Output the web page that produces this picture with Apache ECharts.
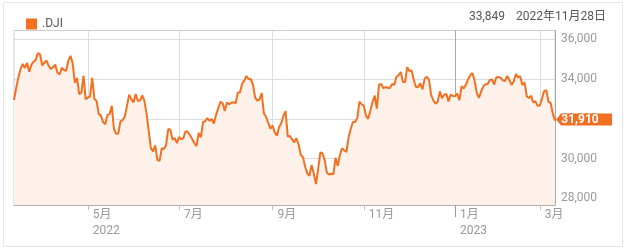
<!DOCTYPE html>
<html>
<head>
<meta charset="utf-8">
<script src="https://cdn.jsdelivr.net/npm/echarts@6/dist/echarts.min.js"></script>
<style>html,body{margin:0;padding:0;background:#fff;}#c{width:626px;height:250px;}</style>
</head>
<body>
<div id="c"></div>
<script>
// Trading days, by month
const monthDays = [
  ['2022-03', [14,15,16,17,18,21,22,23,24,25,28,29,30,31]],
  ['2022-04', [1,4,5,6,7,8,11,12,13,14,18,19,20,21,22,25,26,27,28,29]],
  ['2022-05', [2,3,4,5,6,9,10,11,12,13,16,17,18,19,20,23,24,25,26,27,31]],
  ['2022-06', [1,2,3,6,7,8,9,10,13,14,15,16,17,21,22,23,24,27,28,29,30]],
  ['2022-07', [1,5,6,7,8,11,12,13,14,15,18,19,20,21,22,25,26,27,28,29]],
  ['2022-08', [1,2,3,4,5,8,9,10,11,12,15,16,17,18,19,22,23,24,25,26,29,30,31]],
  ['2022-09', [1,2,6,7,8,9,12,13,14,15,16,19,20,21,22,23,26,27,28,29,30]],
  ['2022-10', [3,4,5,6,7,10,11,12,13,14,17,18,19,20,21,24,25,26,27,28,31]],
  ['2022-11', [1,2,3,4,7,8,9,10,11,14,15,16,17,18,21,22,23,25,28,29,30]],
  ['2022-12', [1,2,5,6,7,8,9,12,13,14,15,16,19,20,21,22,23,27,28,29,30]],
  ['2023-01', [3,4,5,6,9,10,11,12,13,17,18,19,20,23,24,25,26,27,30,31]],
  ['2023-02', [1,2,3,6,7,8,9,10,13,14,15,16,17,21,22,23,24,27,28]],
  ['2023-03', [1,2,3,6,7,8,9,10]]
];
const categories = [];
monthDays.forEach(([m, days]) => days.forEach(d => categories.push(m + '-' + String(d).padStart(2, '0'))));

const seriesName = '.DJI';
const values = [
  // 2022-03
  32945,33544,34063,34481,34755,34553,34808,34358,34708,34862,34955,35294,35229,34678,
  // 2022-04
  34818,34922,34641,34497,34584,34721,34308,34221,34565,34451,34412,34911,35161,34793,33811,34049,33240,33302,34160,32977,
  // 2022-05
  33062,33129,34061,32998,32899,32246,32161,31834,31730,32197,32223,32655,31490,31254,31262,31880,31929,32120,32637,33213,32990,
  // 2022-06
  32813,33248,32900,32916,33180,32910,32273,31393,30517,30365,30669,29927,29889,30530,30484,30677,31500,31439,30947,31029,30775,
  // 2022-07
  31097,30968,31037,31385,31338,31174,30982,30773,30631,31288,31073,31827,31875,32037,31899,31990,31762,32198,32530,32845,
  // 2022-08
  32798,32397,32813,32727,32803,32833,32775,33310,33337,33761,33913,34152,33981,33999,33707,33064,32910,32970,33292,32283,32099,31791,31510,
  // 2022-09
  31656,31318,31145,31581,31775,32152,32381,31105,31135,30962,30822,31020,30706,30184,30077,29590,29261,29135,29684,29226,28726,
  // 2022-10
  29491,30317,30274,29927,29297,29203,29240,29211,30039,29635,30186,30524,30424,30334,31083,31500,31837,31839,32034,32862,32733,
  // 2022-11
  32653,32148,31999,32403,32827,33161,32514,33716,33748,33537,33593,33553,33547,33746,33701,34098,34194,34347,33849,33853,34590,
  // 2022-12
  34395,34430,33948,33597,33598,33781,33477,34006,34109,33966,33203,32920,32758,32850,33377,33028,33204,33242,32876,33221,33147,
  // 2023-01
  33136,33270,32930,33631,33518,33704,33974,34190,34303,33911,33297,33045,33376,33630,33734,33744,33950,33978,33717,34086,
  // 2023-02
  34093,34054,33926,33891,34156,33949,33699,33869,34246,34089,34128,33697,33827,33130,33045,33154,32817,32889,32657,
  // 2023-03
  32662,33004,33391,33432,32856,32798,32254,31910
];

const tickDates  = ['2022-05-02','2022-07-01','2022-09-01','2022-11-01','2023-01-03','2023-03-01'];
const tickLabels = ['5月\n2022','7月','9月','11月','1月\n2023','3月'];
const yearDates  = ['2023-01-03'];
const yTicks = [28000, 30000, 32000, 34000, 36000];
const yMin = 27673, yMax = 36432;

const hoverValue = '33,849';
const hoverDate = '2022年11月28日';

const fmt = v => Number(v).toLocaleString('en-US');
const FONT = 'Roboto, "Noto Sans CJK JP", sans-serif';
const lastIdx = values.length - 1;

const chart = echarts.init(document.getElementById('c'), null, {renderer: 'canvas'});
chart.setOption({
  animation: false,
  textStyle: {fontFamily: FONT},
  legend: {
    data: [seriesName], left: 21, top: 13, icon: 'rect', itemWidth: 11, itemHeight: 11,
    itemGap: 10, selectedMode: false,
    textStyle: {color: '#555', fontSize: 12, fontFamily: FONT}
  },
  graphic: [
    {type: 'rect', shape: {x: 3.5, y: 2.5, width: 619, height: 244}, style: {fill: 'none', stroke: '#e6e6e6', lineWidth: 1}, silent: true, z: -10},
    {type: 'text', right: 20, top: 11, style: {text: hoverDate, fill: '#555', font: '12px ' + FONT}},
    {type: 'text', right: 121, top: 11, style: {text: hoverValue, fill: '#555', font: '12px ' + FONT}}
  ],
  grid: {left: 14, top: 30.5, right: 71, bottom: 45, show: true, borderColor: '#ccc', borderWidth: 1, backgroundColor: 'transparent'},
  xAxis: [
    {
      type: 'category', data: categories, boundaryGap: false,
      axisLine: {show: true, lineStyle: {color: '#b5aea9'}},
      axisTick: {show: true, length: 5, lineStyle: {color: '#bbb'},
        interval: (i) => tickDates.includes(categories[i]) && !yearDates.includes(categories[i])},
      axisLabel: {
        interval: (i) => tickDates.includes(categories[i]),
        formatter: (v) => tickLabels[tickDates.indexOf(v)],
        align: 'left', padding: [0, 0, 0, 5], margin: 2, lineHeight: 16,
        color: '#999', fontSize: 12, fontFamily: FONT
      },
      splitLine: {show: true, lineStyle: {color: '#ddd'},
        interval: (i) => tickDates.includes(categories[i]) && !yearDates.includes(categories[i])}
    },
    {
      type: 'category', data: categories, boundaryGap: false, position: 'bottom',
      axisLine: {show: false},
      axisTick: {show: true, length: 12, lineStyle: {color: '#999'},
        interval: (i) => yearDates.includes(categories[i])},
      axisLabel: {show: false},
      splitLine: {show: true, lineStyle: {color: '#aaa'},
        interval: (i) => yearDates.includes(categories[i])}
    }
  ],
  yAxis: {
    type: 'value', position: 'right', min: yMin, max: yMax, scale: true,
    axisLine: {show: true, lineStyle: {color: '#aaa'}},
    axisTick: {show: false, customValues: yTicks},
    axisLabel: {customValues: yTicks, formatter: fmt, color: '#999', fontSize: 12, margin: 6,
      padding: [0, 0, 5, 0], fontFamily: FONT},
    splitLine: {show: true, lineStyle: {color: '#ddd'}}
  },
  series: [{
    name: seriesName, type: 'line', data: values, showSymbol: false, symbol: 'none',
    itemStyle: {color: '#f37021'},
    lineStyle: {color: '#f37021', width: 2},
    areaStyle: {color: '#fdf1e9', opacity: 1},
    markPoint: {
      symbol: 'path://M0,6 L5,0 L56,0 L56,12 L5,12 Z',
      symbolSize: [56, 12], symbolKeepAspect: false, symbolOffset: [29, -1],
      itemStyle: {color: '#f26f21'},
      label: {show: true, position: 'inside', color: '#fff', fontWeight: 'bold', fontSize: 12,
        fontFamily: FONT, offset: [-4, 0.5], formatter: (p) => fmt(p.value)},
      data: [{coord: [categories[lastIdx], values[lastIdx]], value: values[lastIdx]}]
    }
  }]
});
</script>
</body>
</html>
